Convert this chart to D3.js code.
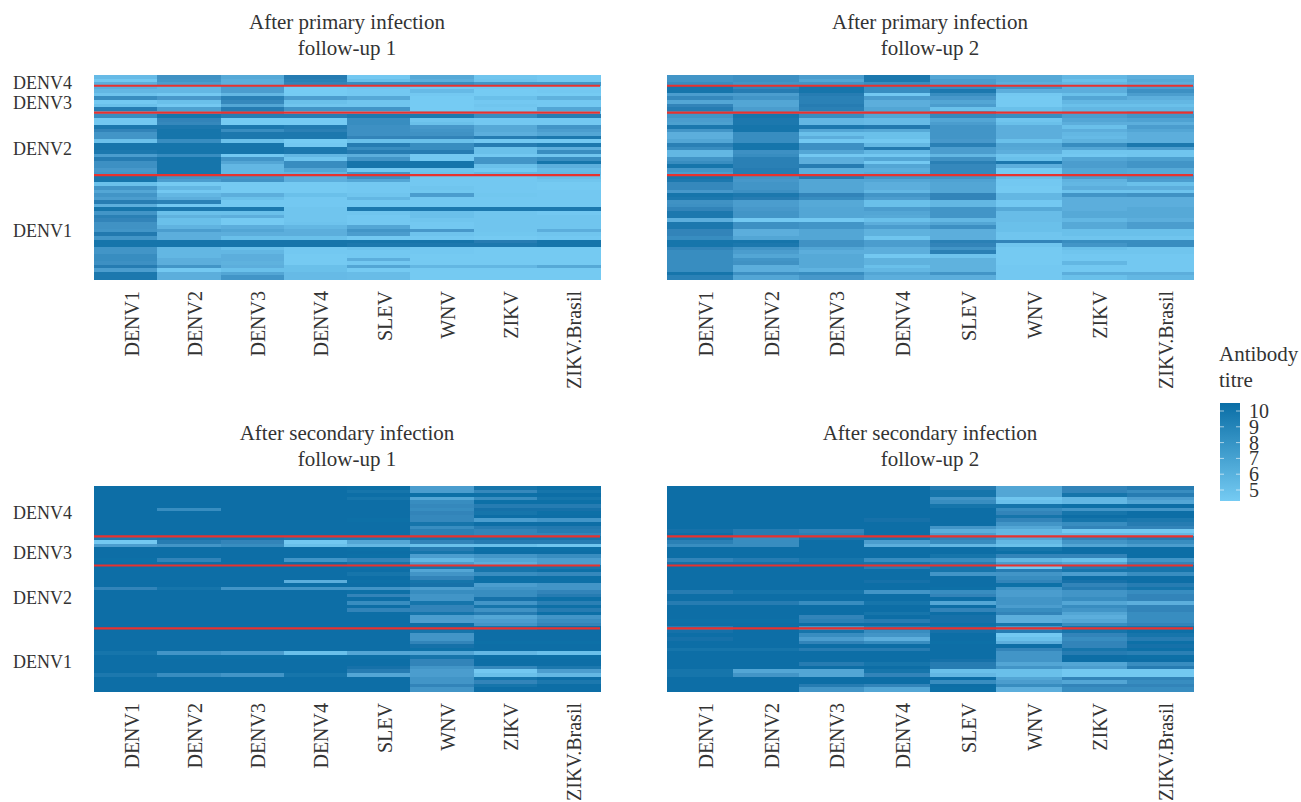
<!DOCTYPE html>
<html><head><meta charset="utf-8">
<script src="https://cdn.jsdelivr.net/npm/d3@7"></script>
<style>html,body{margin:0;background:#fff}svg{display:block}text{font-family:"Liberation Serif",serif;fill:#333}</style>
</head><body><svg id="c" width="1301" height="802"></svg>
<script>
const antigens=["DENV1","DENV2","DENV3","DENV4","SLEV","WNV","ZIKV","ZIKV.Brasil"];
const legendTicks=[5,6,7,8,9,10];
const groupsLabels=["DENV4","DENV3","DENV2","DENV1"];
const topLabelRows=[2,7.6,20.6,43.6];
const bottomLabelRows=[7.5,18.6,31,48.8];
const topLineRows=[3,10.5,28];
const bottomLineRows=[14,22.1,39.6];
const primary1=[
[5.8,8.2,6.8,9.5,5,6.8,5.2,5],[5,8,6.5,9.3,5.5,6.5,5.3,5],[6.5,7.5,6.5,9,8.5,8.5,8,8],[6.5,6,7.5,4.8,5.2,5,5,5],
[6,6,7.5,4.8,5,5.8,4.8,5],[5.3,5,6,4.8,5,5,4.8,4.8],[8.5,7.8,9.2,7.5,6.8,4.7,5.5,6.3],[5,5.5,8.8,5.5,5.2,4.7,5,5],
[5.5,5,7,5.2,5.2,4.7,5.2,5],[9.5,7.3,9.5,8,8,4.8,5,7],[6.5,6.5,8.5,5.5,5.5,5.5,5.2,5.5],[8.5,10,9.5,9.5,9.8,9.8,8.5,9.5],
[5,9,4.8,4.8,8.5,5.2,5,5],[5,8.8,4.8,4.8,8.5,5.5,5,5],[9.8,9.8,9.8,9.6,8.3,7.8,6.8,8],[9,10,8.5,9.3,8.3,8,6.8,7.5],
[8,10,9.8,9.8,8.3,8.2,6.5,7],[8,10,9.8,9.8,9,9,9.5,9.8],[5.5,8.5,5.5,4.8,5.5,5.5,5,5],[10,10,10,5,9.5,8.5,9.5,9.8],
[10,10,10,9.8,8.5,8.5,5.5,6.5],[9.8,10,10,9.8,9.5,9.5,5.5,8.5],[7.5,8.5,5,6,6.5,5,5,5.2],[9.5,10,8,5.2,8,5,8,8.5],
[8.3,10,7,8.5,10,10,8,10],[8.3,10,6,8.5,10,10,5.5,6.5],[7.8,10,6,7,5,5.3,5,5.8],[8,10,6,6.2,8,5.5,6,6],
[10,8,8,6.5,8.3,5,5,5.5],[10,7.5,8.2,6.5,7,5,5,5.2],[5.5,4.9,4.9,4.9,5,5,5,4.9],[8,6,4.9,4.9,5,5.2,5,4.9],
[7,5,4.9,4.9,5,5.1,5,5],[8,6,6.5,5.5,5.2,7.5,5.1,5],[7.5,6.5,5.5,5,6,5,5,5],[9.5,9.2,5,5,5,5,5,5],
[6.5,5,5,5,5,5,5,5],[10,9.8,9.8,5.2,9.8,9.8,9.8,9.8],[8,5.5,5.5,5.2,5.2,5.5,5.2,5],[9.3,6.3,6.5,5.2,5,5.5,5.2,5.2],
[9,5.5,4.9,5.2,5,5.2,5.2,5.2],[8.2,5.5,4.9,5.3,5,5,5.2,5.2],[8.2,6.2,6.5,6,7,5,5.2,5.2],[8,7.5,7,6.5,8,7.8,5.2,6.5],
[9.7,6.5,6.5,6.5,7.5,5.3,5.1,5.2],[8,6.5,5.5,5.5,5,5,4.9,5],[10,10,10,10,10,10,9.5,10],[10,10,10,10,9.8,9.8,9.8,10],
[8,6,5.5,5,5.3,5,4.9,4.9],[8,6,6,5,5,5,4.9,4.9],[8.5,6,6.5,4.9,5,4.9,4.9,4.9],[8.5,6.5,6.5,4.9,6.5,4.9,4.9,4.9],
[8.3,6.5,6.3,4.9,5,4.9,4.9,4.9],[9.5,8,6.5,5.5,7,6,6,6.8],[7.5,5,5.5,5.5,4.9,4.9,4.9,4.9],[9.8,6.5,7,5.8,5.7,4.9,4.9,4.9],
[9.8,6.5,8,5.8,5.7,4.9,4.9,4.9]];
const primary2=[
[8,8.3,7.5,9.8,7,6.8,6,6.5],[8,8.3,7,9.8,7.5,6.8,5.5,6.8],[8.5,8,8,8.5,7.5,6.5,6,6.5],[10,9,10,8.5,8.5,8,6.5,7.5],
[10,9.5,10,8.5,9.8,6.5,6.5,8.3],[7.5,7.5,9.5,5,8.5,5,5.5,7.5],[8.8,8,9.2,7.5,7.8,4.9,7,6.5],[7,7,9.2,6.5,7,4.9,6,6],
[9,7,9.5,6.5,7.5,4.9,5.5,5.5],[9.5,7.5,9.3,7,5.5,5.5,6,6],[8,7.5,7,7,8,5.5,6.5,7],[8,10,8.5,7,8.8,8.5,7.5,8],
[7.5,9.8,6,5.8,7,5.2,7,7.2],[7.3,9.8,6,5.8,7.5,5.5,6.5,6.5],[9.8,10,9.8,9.7,8,6.5,5.5,7.5],[8,10,7,6.8,8,6.5,6.5,7],
[6.5,8.5,5.5,5.5,8,6.5,6,6.5],[6.5,8.5,6.5,5.5,8,6.5,5.8,6.5],[7,8.5,5,5,7.8,5.5,6.3,6.5],[9.3,10,8.3,6,9.3,7,8.5,9.8],
[8.5,10,8.3,9.7,7.5,6.8,7,7.5],[6,8.3,7,6,7.5,6.5,5.2,5.2],[6,8.5,5,5,6,5.2,5,5.2],[8,9.3,6.5,7,8.2,5.5,7,7.3],
[8.5,9.3,6.5,5,9.3,9.8,7.5,8],[10,9.3,9.5,7,8.8,6.5,7.5,8],[8,9.5,6.5,6.5,8.8,4.9,7,6.8],[7.5,9.5,6.5,6.8,8.8,4.9,7,6.8],
[10,8,9.5,8,8,5.5,7.5,7.8],[9.8,7.8,7,7,7.2,5,6.2,7.5],[8.8,8,7,6.5,7,5,6,5.5],[8.8,8,7,6.5,7,4.9,6.5,6.5],
[7.8,8.3,7,6,7,4.9,5.3,5.3],[10,9.8,9,8,9,6,8,8.2],[9.8,9.5,8.5,7.5,9,6,6.5,6.5],[8.2,7.5,6.8,5.5,6,5,6.5,6.5],
[8.3,7.5,6.8,5.5,6,5,6.5,6.5],[9,7.8,7,7.5,8,6.8,6.5,6.8],[9.8,8,7,7,8,5.7,6.8,6.8],[9.8,8,7,6.8,8,5.7,6.8,6.8],
[6.5,5,5,5.5,6,5.7,6,6.5],[9.8,8.3,8,6.5,7,5.5,6.8,7.5],[9.8,8.3,8,7.5,8.3,5.5,6.8,7.5],[9,6.5,7,6.3,6.5,5.5,5.5,5.5],
[9,6.5,7,6.3,6.5,5.2,5.5,5.5],[8.5,7,7,5.2,6.5,5.2,5.2,5.2],[10,10,8.2,7.5,9.3,9,8.5,8.5],[10,9.8,8.2,7.5,9,5.2,8,8.5],
[9,8,7,6.5,8,4.9,5.5,5.2],[8.5,7.5,6.5,6.5,9.3,4.9,5.2,5.2],[8.5,7,6.8,5,5.3,4.9,5,5],[8.5,8,6.8,6.3,6.3,4.9,5,5],
[8.5,8.2,6.8,6.3,6.3,4.9,6,5],[8.5,6.5,6.8,5.5,6.3,5,5,5],[8.5,6.5,6.2,6,6.3,5,5,5],[10,8.3,8.5,7,8,5,6.5,6.5],
[9.2,7,7.8,6.5,6.5,5,5.5,6]];
const secondary1=[
[10.5,10.5,10.5,10.5,10.3,7.5,10,10.3],[10.5,10.5,10.5,10.5,10,7.5,8.8,10],[10.5,10.5,10.5,10.5,10.4,10.3,10.3,10.4],[10.5,10.5,10.5,10.5,10,7,8.5,10],
[10.5,10.5,10.5,10.5,10.4,8.5,10.3,10.3],[10.5,10.5,10.5,10.5,10.5,8.8,9.5,9.5],[10.5,8.5,10.5,10.5,10.5,8.5,10.2,10.2],[10.5,10.5,10.5,10.5,10.5,9,10,10.3],
[10.5,10.5,10.5,10.5,10.5,8.8,10.5,10.5],[10.5,10.5,10.5,10.5,10.3,8.8,7.5,8],[10.5,10.5,10.5,10.5,10.5,10,10.4,10.4],[10.5,10.5,10.5,10.5,10.4,8.5,9.5,9.7],
[10.5,10.5,10.5,10.5,10.5,9.3,9,9.5],[10.5,10.5,10.5,10.5,10.4,9.3,9,9],[9.8,10,10,9.8,9.8,10,10,10],[5,9.5,9,5,7,9,9.5,9.5],
[7.5,8,8.5,5.5,6,5.5,5.5,5.2],[10.5,10.5,10.5,10.5,10.3,9.5,10.3,10.3],[10.5,10.5,10.5,10.5,10.5,10,10.5,10.5],[10.5,10.5,10.5,10.5,10.3,7.5,8,8.5],
[10.3,9,10.5,8,9,6,7,7.5],[10.5,10.5,10.5,10.5,10,7.5,6.5,7.5],[10.5,10.5,10.5,10.5,10.3,10,10,10],[10.5,10.5,10.5,10.5,10.5,7,10,10.3],
[10.5,10.5,10.5,10.5,10,8,8.5,8.8],[10.5,10.5,10.5,10.5,10.5,9,10.3,10.3],[10.5,10.5,10.5,6.5,10.3,10,10.3,10.3],[10.5,10.5,10.5,10.5,10.4,10.2,7.5,8],
[9,10,8,8,8,7.5,8,8],[10.5,10.5,10.5,10.5,10.3,8.5,8.5,9],[10.5,10.5,10.5,10.5,9,8,8.5,9.5],[10.5,10.5,10.5,10.5,10.5,8,10.2,10.3],
[10.5,10.5,10.5,10.5,8.5,10,8,9.3],[10.5,10.5,10.5,10.5,10.5,9,10,10.3],[10.5,10.5,10.5,10.5,9,9,8.2,9.5],[10.5,10.5,10.5,10.5,10.5,10,9.5,10.3],
[10.5,10.5,10.5,10.5,10.5,7.5,7,8],[10.5,10.5,10.5,10.5,10.5,7.5,7.5,8.5],[10.5,10.5,10.5,10.5,10.5,10.5,8,9],[10.5,10.5,10.5,10.5,10.5,10.5,10,10.5],
[10.5,10.5,10.5,10.5,10.5,10,10.5,10.5],[10.5,10.5,10.5,10.5,10.5,8,10.4,10.4],[10.5,10.5,10.5,10.5,10.5,8,10.5,10.5],[10.5,10.5,10.5,10.5,10.5,9,10.3,10.3],
[10.5,10.5,10.5,10.5,10.5,10.2,10.4,10.5],[10.5,10.5,10.5,10.5,10.5,10.3,10.5,10.5],[10,8,7.5,5.5,7,7,6,5.5],[10.4,10.3,10.3,10.3,10.3,10,10.3,10.3],
[10.5,10.5,10.5,10.5,10.5,9,10.4,10.4],[10.5,10.5,10.5,10.5,10.5,9,10.5,10.5],[10.5,10.5,10.5,10.5,10.2,8,8.8,9.8],[10.5,10.5,10.5,10.5,9.5,7.5,5,7.5],
[9.8,8.5,8,10,7,7.5,5.5,6],[10.4,10.4,10.4,10.4,10.4,8,10,10.4],[10.5,10.5,10.5,10.5,10.5,8,9,9.8],[10.5,10.5,10.5,10.5,10.5,9,10,10.4],
[10.4,10.4,10.4,10.4,10.4,8,10.4,10.4]];
const secondary2=[
[10.5,10.5,10.5,10.5,9.5,7,9,9.5],[10.5,10.5,10.5,10.5,10,7,9,8.5],[10.5,10.5,10.5,10.5,10,7,10,9.5],[10.5,10.5,10.5,10.5,8,5.2,6,7.5],
[10.5,10.5,10.5,10.5,8.5,5.5,6,7],[10.5,10.5,10.5,10.5,10,10,10.3,10.5],[10.5,10.5,10.5,10.5,10.5,8.5,8,8],[10.5,10.5,10.5,10.5,10.5,9,10,10.5],
[10.5,10.5,10.5,10.5,10.5,10,10.4,10.5],[10.5,10.5,10.5,10.2,10.5,9,10,9.8],[10.5,10.5,10.5,10.5,10.5,8,8.5,9.5],[10.4,10.4,10.4,10.5,8,7,9,9],
[10.2,9.5,9,10.5,6.5,6,5,5],[10.4,9.5,9.3,10.4,7.5,6,6,6],[10,8.5,10,10,9,7,9,9.5],[9.3,8.5,10.5,7.5,8.5,6,8,8.5],
[8.5,8.5,10.5,6.5,6,5.5,7,7.5],[10.5,10.5,10.5,10.5,10.5,10,10.5,10.5],[10.5,10.5,10.5,10.5,10.5,10.3,10.5,10.5],[10.5,10.5,10.5,10.5,10,9,9,10.5],
[9,9.5,10,8.5,8.5,6,5.5,8],[10.2,10.2,10.2,10,9.5,7.5,7,9],[10.5,10.5,10.5,9.5,10,5,9.5,10],[10.5,10.5,10.5,10.5,10,9.5,10,10],
[10.5,10.5,10.5,10.5,8,8,7.5,8.5],[10.5,10.5,10.5,10.5,10.5,8.5,10.5,10.5],[10.5,10.5,10.5,10.2,10.5,9,10.2,10.4],[10.5,10.5,10.5,10.5,10.5,10.3,9,9.5],
[10.5,10.5,10.5,10.5,10.3,8,9.5,10],[9.5,10,10,8,8.5,7.5,8,8.5],[10.5,10.5,10.5,10.5,9,7.5,8,9],[10.5,10.5,10.5,10.5,10.5,8,8.5,9],
[9.5,9.5,8.5,10,7,8,7,6.5],[10.5,10.5,10.5,10.5,10.5,7.5,8.5,9],[10.5,10.5,10.5,10.5,9,8.5,8,9],[10.5,10.5,10.5,10,10.5,9,7,8.5],
[10.5,10.5,9,10.5,10.2,6.5,6.5,8.5],[10.3,10.3,9.2,9.5,10.2,6.5,7,8.5],[10.5,10.5,10.5,10.5,10.3,10,8.5,9],[9.5,10.5,8,9.5,10,8,10,10],
[10.2,10.5,10,8.5,10.2,9.5,10,10.3],[10.5,10.5,8.5,8,10.5,5,9,10],[10.2,10.5,7.5,6.5,10.4,5.5,8.5,9.5],[10.5,10.5,9,8.5,10.3,6.5,9,10.3],
[10.5,10.5,10.5,10.5,10.5,10.5,9,10.2],[10,10,9.5,9.5,10.5,9,10,10.3],[10.5,10.5,10.5,10.5,10.5,8,9.5,9.3],[10.5,10.5,10.5,10.5,10.5,8,10.5,10.3],
[10.5,10.5,10.5,10.5,10.2,8,10.5,10.5],[10.5,10.5,9.5,10,9.5,7,7,8.5],[10.5,10.5,10.5,10.5,9.5,8,7.5,9.5],[10,7,7,10,5.5,5.5,5,5],
[10,8,7,9,6,5.5,5,5],[10.5,10.5,10.5,10.5,10.5,7,9,9],[10.5,10.5,10.5,10.5,8.5,7.5,7,8.5],[10.5,10.5,9.5,9,10.5,8.5,9,9],
[10.5,10.5,8,7,10.3,6.5,8.5,8.5]];
const panels=[
{t:["After primary infection","follow-up 1"],rows:primary1,x:[94,600],y:[75,279],lab:topLabelRows,lines:topLineRows,ty:[29,55]},
{t:["After primary infection","follow-up 2"],rows:primary2,x:[667,1193],y:[75,279],lab:topLabelRows,lines:topLineRows,ty:[29,55],noY:true},
{t:["After secondary infection","follow-up 1"],rows:secondary1,x:[94,600],y:[486,691],lab:bottomLabelRows,lines:bottomLineRows,ty:[440,466]},
{t:["After secondary infection","follow-up 2"],rows:secondary2,x:[667,1193],y:[486,691],lab:bottomLabelRows,lines:bottomLineRows,ty:[440,466],noY:true}];
const color=d3.scaleLinear().domain([4.85,10.4]).range(["#75CBF3","#0A6EA6"]).interpolate(d3.interpolateLab).clamp(true);
const svg=d3.select("#c");
const soft=svg.append("defs").append("filter").attr("id","soft").attr("x","-2%").attr("y","-2%").attr("width","104%").attr("height","104%");
soft.append("feGaussianBlur").attr("stdDeviation","0.3 0.55");
panels.forEach(p=>{
  const g=svg.append("g");
  const x=d3.scaleBand().domain(antigens).range(p.x);
  const y=d3.scaleBand().domain(d3.range(p.rows.length)).range(p.y);
  const yU=d3.scaleLinear().domain([0,p.rows.length]).range(p.y);
  const heat=g.append("g").attr("filter","url(#soft)");
  const cells=heat.append("g").attr("shape-rendering","crispEdges");
  p.rows.forEach((row,i)=>{
    cells.selectAll(null).data(row).enter().append("rect")
      .attr("x",(d,j)=>x(antigens[j])).attr("y",y(i))
      .attr("width",x.bandwidth()+.5).attr("height",y.bandwidth()+.5)
      .attr("fill",d=>color(d));
  });
  heat.selectAll(null).data(p.lines).enter().append("line")
    .attr("x1",p.x[0]).attr("x2",p.x[1]).attr("y1",d=>yU(d)).attr("y2",d=>yU(d))
    .attr("stroke","#E8302F").attr("stroke-width",2.2);
  const ax=g.append("g").attr("transform",`translate(0,${p.y[1]})`).call(d3.axisBottom(x).tickSize(0));
  ax.select(".domain").remove();
  ax.selectAll("text").attr("font-size",20).attr("text-anchor","end").attr("dy",0)
    .attr("transform","translate(6,12) rotate(-90)").attr("dominant-baseline","central").attr("x",0).attr("y",0);
  if(!p.noY){
    const ay=g.append("g").attr("transform",`translate(${p.x[0]},0)`)
      .call(d3.axisLeft(d3.scaleOrdinal().domain(groupsLabels).range(p.lab.map(v=>yU(v)))).tickSize(0).tickPadding(22));
    ay.select(".domain").remove();
    ay.selectAll("text").attr("font-size",18).attr("text-anchor","start").attr("x",-81).attr("dy",".33em");
  }
  p.t.forEach((s,k)=>g.append("text").attr("x",(p.x[0]+p.x[1])/2).attr("y",p.ty[k]).attr("text-anchor","middle").attr("font-size",21).text(s));
});
svg.append("text").attr("x",1219).attr("y",361).attr("font-size",21).text("Antibody");
svg.append("text").attr("x",1219).attr("y",387).attr("font-size",21).text("titre");
const grad=svg.append("defs").append("linearGradient").attr("id","lg").attr("x1",0).attr("x2",0).attr("y1",0).attr("y2",1);
grad.append("stop").attr("offset",0).attr("stop-color","#0A6EA6");
grad.append("stop").attr("offset",1).attr("stop-color","#75CBF3");
svg.append("rect").attr("x",1220).attr("y",403).attr("width",20).attr("height",98).attr("fill","url(#lg)");
const ly=d3.scaleLinear().domain([5,10]).range([490,411]);
const lax=svg.append("g").attr("transform","translate(1240,0)").call(d3.axisRight(ly).tickValues(legendTicks).tickFormat(d3.format("d")).tickSize(0).tickPadding(9));
lax.select(".domain").remove();
lax.selectAll("text").attr("font-size",20);
legendTicks.forEach(v=>{
  svg.append("line").attr("x1",1220).attr("x2",1224).attr("y1",ly(v)).attr("y2",ly(v)).attr("stroke","#fff").attr("stroke-opacity",.6);
  svg.append("line").attr("x1",1236).attr("x2",1240).attr("y1",ly(v)).attr("y2",ly(v)).attr("stroke","#fff").attr("stroke-opacity",.6);
});
</script></body></html>
